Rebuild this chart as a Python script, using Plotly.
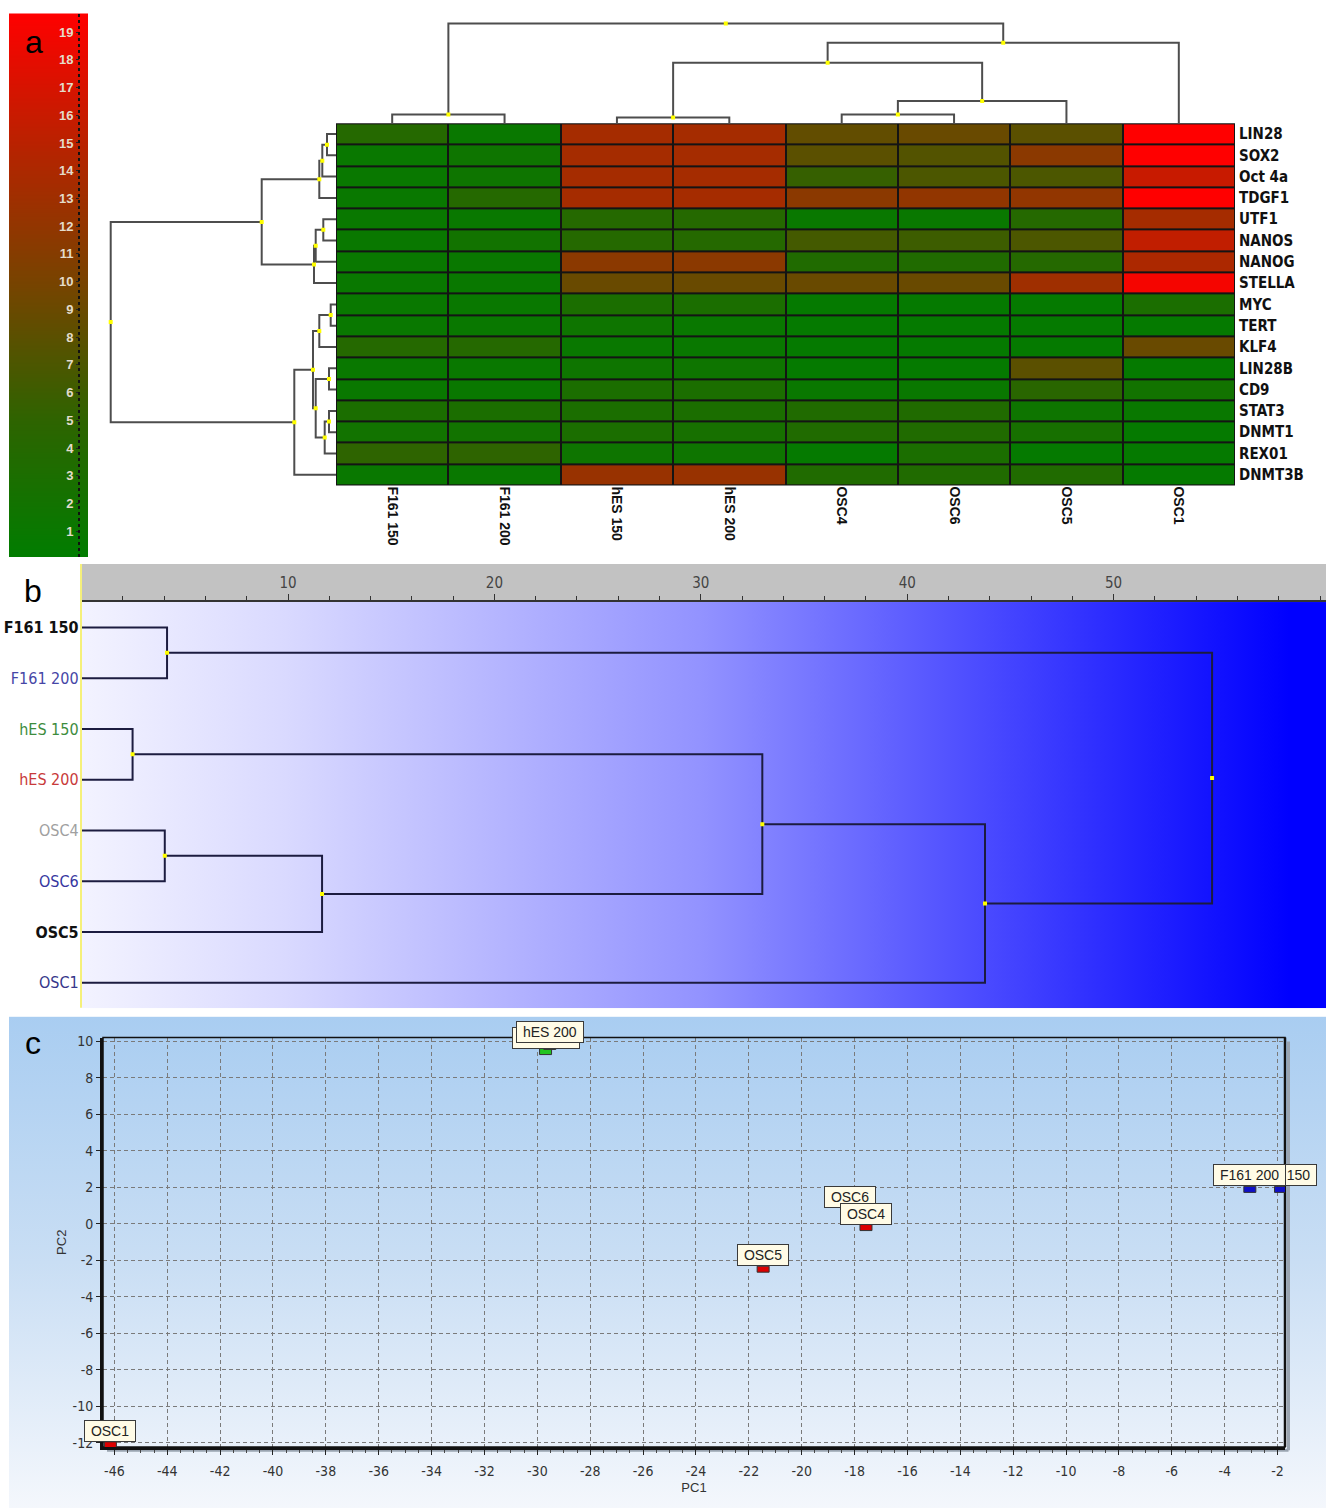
import base64
import numpy as np
import plotly.graph_objects as go

W, H = 1326, 1512

# ---------------- data ----------------
genes = ["LIN28", "SOX2", "Oct 4a", "TDGF1", "UTF1", "NANOS", "NANOG", "STELLA", "MYC",
         "TERT", "KLF4", "LIN28B", "CD9", "STAT3", "DNMT1", "REX01", "DNMT3B"]
samples = ["F161 150", "F161 200", "hES 150", "hES 200", "OSC4", "OSC6", "OSC5", "OSC1"]

expr_LIN28 = [4, 1, 13.5, 13.5, 8.5, 9, 8, 19.7]
expr_SOX2 = [1, 1.5, 13.5, 13.5, 8, 7.5, 11.5, 19.7]
expr_OCT4A = [1, 1.5, 13.5, 13.5, 5.5, 7, 7, 16]
expr_TDGF1 = [1, 4, 13.5, 13.5, 11.5, 12, 12, 19.7]
expr_UTF1 = [1, 1, 4, 4, 1, 1, 4, 13.5]
expr_NANOS = [1, 2, 4, 4, 6.5, 6, 7, 15.5]
expr_NANOG = [1, 1, 11.5, 11.5, 3.5, 3.5, 4, 14]
expr_STELLA = [1, 1, 9, 9, 9, 9, 13, 19]
expr_MYC = [1, 1, 3, 3, 0.5, 0.5, 0.5, 3]
expr_TERT = [1, 1, 1.5, 1, 0.5, 0.5, 0.5, 0.5]
expr_KLF4 = [4, 4, 1, 1, 0.5, 0.5, 0.5, 9]
expr_LIN28B = [1, 1, 1.5, 1.5, 0.5, 0.5, 8, 0.5]
expr_CD9 = [1, 1, 3, 3, 1, 1, 4.5, 2]
expr_STAT3 = [3, 3, 3, 3, 3.5, 3.5, 1.5, 1]
expr_DNMT1 = [2, 2, 3, 2.5, 3.5, 3.5, 2.5, 0.5]
expr_REX01 = [5, 5, 1.5, 1.5, 0.5, 3, 0.5, 0.5]
expr_DNMT3B = [1, 1, 12.5, 12.5, 3.5, 3.5, 3.5, 0.5]

scale_ticks = list(range(1, 20))

# column dendrogram: (child a, child b, height); leaves 0..7, new clusters 8..
col_merges = [(0, 1, 0.9), (2, 3, 0.6), (4, 5, 0.9), (10, 6, 2.25),
              (9, 11, 6.1), (12, 7, 8.1), (8, 13, 10.05)]
# row dendrogram: leaves 0..16, new clusters 17..
row_merges = [(0, 1, 0.90), (17, 2, 1.37), (18, 3, 1.67), (4, 5, 1.27), (20, 6, 2.03),
              (21, 7, 2.20), (19, 22, 7.43), (8, 9, 0.53), (24, 10, 1.67), (11, 12, 0.70),
              (13, 14, 0.70), (27, 15, 1.13), (26, 28, 2.03), (25, 29, 2.30),
              (30, 16, 4.17), (23, 31, 22.53)]

# panel b: hierarchical clustering distances
b_leaves = ["F161 150", "F161 200", "hES 150", "hES 200", "OSC4", "OSC6", "OSC5", "OSC1"]
b_label_colors = ["#111111", "#4646a6", "#3d8c3d", "#c83a3a", "#a0a0a0", "#3636a0", "#111111", "#36368a"]
b_label_bold = [True, False, False, False, False, False, True, False]
b_merges = [(0, 1, 4.14), (2, 3, 2.47), (4, 5, 4.03), (10, 6, 11.65),
            (9, 11, 32.98), (12, 7, 43.77), (8, 13, 54.77)]
b_ticks = [10, 20, 30, 40, 50]

# panel c: PCA
pca_names = ["hES 150", "hES 200", "OSC6", "OSC4", "OSC5", "OSC1", "F161 150", "F161 200"]
pc1 = [-29.69, -29.53, -18.17, -17.57, -21.46, -46.15, -1.89, -3.05]
pc2 = [9.43, 9.71, 0.68, -0.21, -2.49, -12.11, 1.88, 1.88]
pca_colors = ["#22c422", "#22c422", "#dd0000", "#dd0000", "#dd0000", "#dd0000", "#1010c8", "#1010c8"]
pc1_ticks = list(range(-46, -1, 2))
pc2_ticks = list(range(-12, 11, 2))

expression = [expr_LIN28, expr_SOX2, expr_OCT4A, expr_TDGF1, expr_UTF1, expr_NANOS, expr_NANOG,
              expr_STELLA, expr_MYC, expr_TERT, expr_KLF4, expr_LIN28B, expr_CD9, expr_STAT3,
              expr_DNMT1, expr_REX01, expr_DNMT3B]

# ---------------- helpers ----------------
def px(x):
    return x / W


def py(y):
    return 1 - y / H


def dendro(merges, n):
    pos = {i: float(i) for i in range(n)}
    hgt = {i: 0.0 for i in range(n)}
    P, Hh, nodes = [], [], []
    for k, (a, b, h) in enumerate(merges):
        nid = n + k
        P += [pos[a], pos[a], pos[b], pos[b], None]
        Hh += [hgt[a], h, h, hgt[b], None]
        pos[nid] = (pos[a] + pos[b]) / 2
        hgt[nid] = h
        nodes.append((pos[nid], h))
    return P, Hh, nodes


def grad_uri(stops, vertical):
    x2, y2 = ("0", "1") if vertical else ("1", "0")
    s = ('<svg xmlns="http://www.w3.org/2000/svg" width="100" height="100" viewBox="0 0 100 100" '
         'preserveAspectRatio="none"><defs><linearGradient id="g" x1="0" y1="0" x2="%s" y2="%s">' % (x2, y2)
         + "".join('<stop offset="%s" stop-color="%s"/>' % (o, c) for o, c in stops)
         + '</linearGradient></defs><rect width="100" height="100" fill="url(#g)"/></svg>')
    return "data:image/svg+xml;base64," + base64.b64encode(s.encode()).decode()


NARROW = "Liberation Sans Narrow, DejaVu Sans Condensed, Arial Narrow, Liberation Sans, sans-serif"
ARIAL = "Liberation Sans, Arial, sans-serif"

cs = [[0, "rgb(0,125,0)"], [0.25, "rgb(45,100,0)"], [0.5, "rgb(118,68,0)"],
      [0.75, "rgb(182,35,0)"], [1, "rgb(255,0,0)"]]
ZMAX = 19.7

fig = go.Figure()

# ---- colour scale bar (panel a) ----
levels = np.round(np.arange(0.0, 19.75, 0.05), 3)
fig.add_trace(go.Heatmap(z=[[v] for v in levels], x=[0], y=levels, colorscale=cs, zmin=0, zmax=ZMAX,
                         showscale=False, hoverinfo="skip", xaxis="x", yaxis="y"))

# ---- main heatmap ----
fig.add_trace(go.Heatmap(z=expression, x=list(range(len(samples))), y=list(range(len(genes))),
                         colorscale=cs, zmin=0, zmax=ZMAX, xgap=2, ygap=2, showscale=False,
                         xaxis="x2", yaxis="y2"))

DCOL = "#4d4d4d"
# ---- column dendrogram ----
P, Hh, nodes = dendro(col_merges, len(samples))
fig.add_trace(go.Scatter(x=P, y=Hh, mode="lines", line=dict(color=DCOL, width=2),
                         hoverinfo="skip", xaxis="x3", yaxis="y3"))
fig.add_trace(go.Scatter(x=[n[0] for n in nodes], y=[n[1] for n in nodes], mode="markers",
                         marker=dict(color="#ffff00", size=4, symbol="square"),
                         hoverinfo="skip", xaxis="x3", yaxis="y3"))

# ---- row dendrogram ----
P, Hh, nodes = dendro(row_merges, len(genes))
fig.add_trace(go.Scatter(x=Hh, y=P, mode="lines", line=dict(color=DCOL, width=2),
                         hoverinfo="skip", xaxis="x4", yaxis="y4"))
fig.add_trace(go.Scatter(x=[n[1] for n in nodes], y=[n[0] for n in nodes], mode="markers",
                         marker=dict(color="#ffff00", size=4, symbol="square"),
                         hoverinfo="skip", xaxis="x4", yaxis="y4"))

# ---- panel b dendrogram ----
P, Hh, nodes = dendro(b_merges, len(b_leaves))
fig.add_trace(go.Scatter(x=Hh, y=P, mode="lines", line=dict(color="#1c1c40", width=2),
                         hoverinfo="skip", xaxis="x5", yaxis="y5"))
fig.add_trace(go.Scatter(x=[n[1] for n in nodes], y=[n[0] for n in nodes], mode="markers",
                         marker=dict(color="#ffff00", size=4, symbol="square"),
                         hoverinfo="skip", xaxis="x5", yaxis="y5"))

# ---- panel c PCA (invisible anchor points; rectangles drawn as shapes) ----
fig.add_trace(go.Scatter(x=pc1, y=pc2, mode="markers", marker=dict(size=10, opacity=0),
                         text=pca_names, hoverinfo="text", xaxis="x6", yaxis="y6"))

shapes = []
annotations = []

# heatmap black cell borders
shapes.append(dict(type="rect", xref="x2 domain", yref="y2 domain", x0=0, x1=1, y0=0, y1=1,
                   fillcolor="#141414", line=dict(width=0), layer="below"))
# dotted line on colour bar
shapes.append(dict(type="line", xref="paper", yref="paper", x0=px(79), x1=px(79), y0=py(556), y1=py(10),
                   line=dict(color="#111111", width=2, dash="dot")))
# panel b grey header and yellow axis
shapes.append(dict(type="rect", xref="paper", yref="paper", x0=px(81), x1=1, y0=py(601), y1=py(563),
                   fillcolor="#c2c2c2", line=dict(width=0), layer="below"))
shapes.append(dict(type="line", xref="paper", yref="paper", x0=px(81), x1=px(81), y0=py(1009), y1=py(563),
                   line=dict(color="#f5f07a", width=2)))
# panel c frame with soft shadow on the right and bottom
shapes.append(dict(type="line", xref="paper", yref="paper", x0=px(1288.5), x1=px(1288.5),
                   y0=py(1454), y1=py(1043), line=dict(color="#9aa4b0", width=3), layer="below"))
shapes.append(dict(type="line", xref="paper", yref="paper", x0=px(107), x1=px(1288.5),
                   y0=py(1454), y1=py(1454), line=dict(color="#9aa4b0", width=3), layer="below"))
shapes.append(dict(type="rect", xref="x6 domain", yref="y6 domain", x0=0, x1=1, y0=0, y1=1,
                   line=dict(color="#111111", width=1.5), layer="above"))
shapes.append(dict(type="line", xref="x6 domain", yref="y6 domain", x0=1, x1=1, y0=0, y1=1,
                   line=dict(color="#111111", width=2.5), layer="above"))

# PCA labels and markers
for name, x, y, col in zip(pca_names, pc1, pc2, pca_colors):
    txt = "\u00a0" + name + "\u00a0"
    annotations.append(dict(xref="x6", yref="y6", x=x, y=y, text=txt, showarrow=False,
                            yanchor="bottom", yshift=3, bgcolor="#fffbe6",
                            bordercolor="#3a3a3a", borderwidth=1, borderpad=2,
                            font=dict(family=ARIAL, size=14, color="#222222")))
    shapes.append(dict(type="rect", xref="x6", yref="y6", xsizemode="pixel", ysizemode="pixel",
                       xanchor=x, yanchor=y, x0=-6, x1=6, y0=-3, y1=3, fillcolor=col,
                       line=dict(color="#333333", width=1), layer="above"))

# panel letters
for letter, xx, yy in [("a", 34, 38), ("b", 33, 590), ("c", 33, 1045)]:
    annotations.append(dict(xref="paper", yref="paper", x=px(xx), y=py(yy), text=letter, showarrow=False,
                            xanchor="center", yanchor="middle",
                            font=dict(family=ARIAL, size=32, color="#000000")))

# gradients
images = [
    dict(source=grad_uri([(0, "#f3f3ff"), (0.165, "#d9d9ff"), (0.33, "#b6b6ff"), (0.5, "#9292ff"),
                          (0.665, "#5d5dff"), (0.83, "#2a2aff"), (0.97, "#0000ff"), (1, "#0000ff")], False),
         xref="paper", yref="paper", x=px(81.6), y=py(601.2), sizex=1 - px(81.6), sizey=(1009.5 - 601.2) / H,
         xanchor="left", yanchor="top", sizing="stretch", layer="below"),
    dict(source=grad_uri([(0, "#a9cdf1"), (0.5, "#c9def4"), (1, "#f4f7fc")], True),
         xref="paper", yref="paper", x=px(9), y=py(1018), sizex=1 - px(9), sizey=(1512 - 1018) / H,
         xanchor="left", yanchor="top", sizing="stretch", layer="below"),
]

hidden = dict(visible=False, showgrid=False, zeroline=False, fixedrange=True)

b_ticktext = []
for n, c, bold in zip(b_leaves, b_label_colors, b_label_bold):
    t = "<span style='color:%s'>%s</span>" % (c, n)
    b_ticktext.append("<b>%s</b>" % t if bold else t)

fig.update_layout(
    width=W, height=H, autosize=False,
    margin=dict(l=0, r=0, t=0, b=0),
    paper_bgcolor="white", plot_bgcolor="rgba(0,0,0,0)",
    showlegend=False,
    shapes=shapes, annotations=annotations, images=images,
    # colour bar
    xaxis=dict(domain=[px(9), px(88)], range=[-0.5, 0.5], anchor="y", **hidden),
    yaxis=dict(domain=[py(556), py(9.5)], range=[0.07, 19.67], anchor="free", position=px(79),
               side="left", tickvals=scale_ticks, ticks="outside", ticklen=3, tickcolor="#222",
               tickfont=dict(family=ARIAL, size=13, color="#e4dccb", weight="bold"),
               showgrid=False, zeroline=False, showline=False),
    # heatmap
    xaxis2=dict(domain=[px(336), px(1235)], range=[-0.5, 7.5], anchor="y2",
                tickvals=list(range(len(samples))), ticktext=samples, tickangle=90, ticks="",
                tickfont=dict(family=ARIAL, size=14, color="#111", weight="bold"),
                showgrid=False, zeroline=False, showline=False),
    yaxis2=dict(domain=[py(484), py(120)], range=[16.5, -0.5], anchor="x2", side="right",
                tickvals=list(range(len(genes))), ticktext=genes, ticks="", ticklabelstandoff=3,
                tickfont=dict(family=NARROW, size=15, color="#111", weight="bold"),
                showgrid=False, zeroline=False, showline=False),
    # column dendrogram
    xaxis3=dict(domain=[px(336), px(1235)], range=[-0.5, 7.5], anchor="y3", **hidden),
    yaxis3=dict(domain=[py(120), py(15)], range=[0, 10.5], anchor="x3", **hidden),
    # row dendrogram
    xaxis4=dict(domain=[px(100), px(336)], range=[23.6, 0], anchor="y4", **hidden),
    yaxis4=dict(domain=[py(484), py(120)], range=[16.5, -0.5], anchor="x4", **hidden),
    # panel b
    xaxis5=dict(domain=[px(81.6), 1], range=[0, 60.29], anchor="y5", side="top",
                tickvals=b_ticks, ticks="outside", ticklen=6, tickcolor="#333", tickwidth=1,
                minor=dict(dtick=2, tick0=0, ticks="outside", ticklen=4, tickcolor="#333"),
                showline=True, linecolor="#333", linewidth=2,
                tickfont=dict(family=NARROW, size=15, color="#444"),
                showgrid=False, zeroline=False),
    yaxis5=dict(domain=[py(1009.5), py(601.2)], range=[7.5, -0.5], anchor="x5",
                tickvals=list(range(len(b_leaves))), ticktext=b_ticktext,
                ticks="", ticklabelstandoff=2,
                tickfont=dict(family=NARROW, size=16, color="#111"),
                showgrid=False, zeroline=False, showline=False),
    # panel c
    xaxis6=dict(domain=[px(103), px(1285)], range=[-46.43, -1.72], anchor="y6",
                tickvals=pc1_ticks, ticktext=[str(v) for v in pc1_ticks],
                ticks="outside", ticklen=5, tickcolor="#222",
                minor=dict(dtick=0.5, ticks="outside", ticklen=3, tickcolor="#444", showgrid=False),
                showgrid=True, gridcolor="#7a7a7a", griddash="4px,3px", gridwidth=1,
                showline=True, linecolor="#111", linewidth=3, zeroline=False,
                tickfont=dict(family=NARROW, size=14, color="#333"), ticklabelstandoff=4,
                title=dict(text="PC1", font=dict(family=ARIAL, size=13, color="#333"), standoff=6)),
    yaxis6=dict(domain=[py(1450.7), py(1039)], range=[-12.23, 10.2], anchor="x6",
                tickvals=pc2_ticks, ticktext=[str(v) for v in pc2_ticks],
                ticks="outside", ticklen=4, tickcolor="#222",
                showgrid=True, gridcolor="#7a7a7a", griddash="4px,3px", gridwidth=1,
                showline=True, linecolor="#111", linewidth=3, zeroline=False,
                tickfont=dict(family=NARROW, size=14, color="#333"),
                title=dict(text="PC2", font=dict(family=ARIAL, size=13, color="#333"), standoff=4)),
)

fig.write_html("out.html", config={"displayModeBar": False},
               post_script="document.body.style.margin='0px';")
